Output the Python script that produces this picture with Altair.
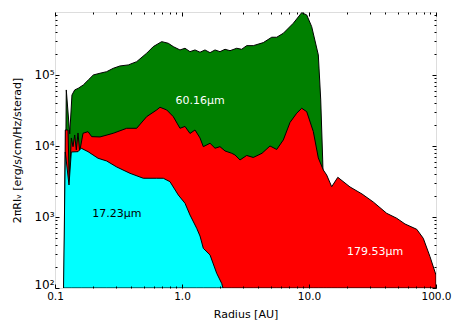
import altair as alt
import pandas as pd

# ---- data ----
x_green = [0.119, 0.1227, 0.1306, 0.136, 0.1429, 0.1526, 0.167, 0.183, 0.2003, 0.226, 0.255, 0.2876,
           0.325, 0.3777, 0.4396, 0.527, 0.594, 0.692, 0.780, 0.854, 0.964, 1.056, 1.156, 1.266,
           1.386, 1.517, 1.662, 1.82, 1.991, 2.181, 2.388, 2.696, 2.951, 3.232, 3.642, 4.365,
           5.086, 5.568, 6.277, 7.521, 8.762, 9.594, 10.50, 11.84, 12.37, 12.82, 13.61]
y_green = [100, 61500, 14800, 52200, 61500, 65000, 72300, 85100, 100000, 105700, 111200, 124100,
           133900, 138400, 153900, 202300, 250600, 294600, 279300, 250600, 225000, 237700, 212800, 225000,
           208800, 225000, 206000, 225000, 212800, 230000, 219600, 237700, 230000, 258800, 258800, 285300,
           339700, 339700, 386500, 534500, 753600, 699800, 478600, 191400, 44500, 6350, 100]

x_red = [0.118, 0.1205, 0.1266, 0.1296, 0.1344, 0.1386, 0.1429, 0.1472, 0.1517, 0.1565, 0.1662, 0.182,
         0.1946, 0.226, 0.2876, 0.3669, 0.4396, 0.527, 0.632, 0.671, 0.758, 0.854, 0.964, 1.056,
         1.156, 1.266, 1.386, 1.472, 1.662, 1.82, 1.991, 2.181, 2.462, 2.614, 2.862, 3.232,
         3.642, 4.266, 4.93, 5.568, 6.277, 7.087, 8.0, 8.762, 9.594, 10.81, 11.84, 12.96,
         13.77, 15.09, 16.86, 21.02, 26.14, 32.08, 40.9, 49.05, 57.0, 70.5, 79.4, 89.7, 100]
y_red = [100, 16800, 16800, 3000, 12970, 9770, 14290, 8790, 15240, 8320, 15100, 15900,
         13520, 13400, 15100, 17740, 17740, 25870, 32150, 35080, 32150, 25870, 17740, 18840,
         15000, 16800, 12970, 9770, 10920, 9290, 9770, 8510, 7890, 7470, 6350, 7350,
         6890, 7890, 10000, 8930, 12160, 21430, 28910, 33960, 30410, 16000, 6780, 4590,
         3910, 2670, 3620, 2650, 2110, 1626, 1127, 960, 797, 671, 501, 276, 152]

x_cyan = [0.1167, 0.1205, 0.1289, 0.1344, 0.1517, 0.161, 0.182, 0.2182, 0.255, 0.306, 0.3897, 0.4957,
          0.632, 0.7126, 0.8043, 0.935, 1.056, 1.156, 1.305, 1.386, 1.472, 1.662, 1.876, 2.054, 2.102]
y_cyan = [100, 8220, 2820, 8220, 8320, 9290, 8320, 6710, 6150, 5060, 4120, 3510,
          3510, 3510, 3140, 2040, 1560, 1067, 693, 540, 362, 292, 161, 116, 100]

baseline_value = 100

label_text = ["60.16μm", "17.23μm", "179.53μm"]
label_x = [1.386, 0.3076, 33.1]
label_y = [43000, 1100, 321]
label_color = ["white", "black", "white"]

x_major = [0.1, 1, 10, 100]
x_major_text = ["0.1", "1.0", "10.0", "100.0"]
y_major = [100, 1000, 10000, 100000]
y_major_text = ["10²", "10³", "10⁴", "10⁵"]
x_ticks = [round(m * d, 4) for d in (0.1, 1, 10) for m in range(1, 10)] + [100]
y_ticks = [m * d for d in (100, 1000, 10000, 100000) for m in range(1, 10) if m * d <= 770000]

green = pd.DataFrame({"x": x_green, "y": y_green, "b": baseline_value})
red = pd.DataFrame({"x": x_red, "y": y_red, "b": baseline_value})
cyan = pd.DataFrame({"x": x_cyan, "y": y_cyan, "b": baseline_value})
labels = pd.DataFrame({"x": label_x, "y": label_y, "t": label_text, "c": label_color})

FONT = "DejaVu Sans"
x_scale = alt.Scale(type="log", domain=[0.1, 100])
y_scale = alt.Scale(type="log", domain=[100, 770000])

def is_major(vals):
    return " || ".join(f"datum.value == {v}" for v in vals)

def label_expr(vals, texts):
    s = "''"
    for v, t in reversed(list(zip(vals, texts))):
        s = f"datum.value == {v} ? '{t}' : ({s})"
    return s

def tick_size(vals):
    return {"condition": {"test": is_major(vals), "value": -4}, "value": -2}

common = dict(domain=False, grid=False, tickColor="black", tickWidth=1, zindex=1,
              labelFont=FONT, titleFont=FONT, labelColor="black", titleColor="black",
              labelOverlap=False, labelFlush=False, labelBound=False,
              titleFontWeight="normal", titleFontSize=11)

x_axis_bottom = alt.Axis(values=x_ticks, labelExpr=label_expr(x_major, x_major_text),
                         tickSize=tick_size(x_major), title="Radius [AU]", orient="bottom",
                         labelPadding=7, labelFontSize=10.5, titleY=29, titleBaseline="alphabetic",
                         **common)
y_axis_left = alt.Axis(values=y_ticks, labelExpr=label_expr(y_major, y_major_text),
                       tickSize=tick_size(y_major), title="2πRIᵥ [erg/s/cm/Hz/sterad]",
                       orient="left", labelPadding=5, labelFontSize=12, labelBaseline="alphabetic",
                       labelOffset={"condition": {"test": "datum.value == 100", "value": 0}, "value": 4},
                       titleX=-35, titleBaseline="alphabetic", **common)
x_axis_top = alt.Axis(values=x_ticks, labels=False, title=None, orient="top",
                      tickSize=tick_size(x_major), **common)
y_axis_right = alt.Axis(values=y_ticks, labels=False, title=None, orient="right",
                        tickSize=tick_size(y_major), **common)

def area(df, color, xa=None, ya=None):
    return alt.Chart(df).mark_area(fill=color, fillOpacity=1, stroke="black", strokeWidth=1,
                                   interpolate="linear", orient="vertical", clip=True).encode(
        x=alt.X("x:Q", scale=x_scale, axis=xa),
        y=alt.Y("y:Q", scale=y_scale, axis=ya),
        y2="b:Q",
    )

g = area(green, "#008000", x_axis_bottom, y_axis_left)
r = area(red, "#ff0000")
c = area(cyan, "#00ffff")

txt = alt.Chart(labels).mark_text(font=FONT, fontSize=11, align="center", baseline="middle").encode(
    x=alt.X("x:Q", scale=x_scale, axis=x_axis_top),
    y=alt.Y("y:Q", scale=y_scale, axis=y_axis_right),
    text="t:N",
    color=alt.Color("c:N", scale=None),
)

chart = alt.layer(g, r, c, txt).resolve_axis(x="independent", y="independent").properties(
    width=381, height=276,
    autosize=alt.AutoSizeParams(type="none"),
    padding={"left": 47, "top": 4, "right": 19, "bottom": 35},
).configure_view(stroke="black", strokeWidth=1).configure(background="white")

chart.save("out.html", embed_options={"renderer": "svg", "actions": False})
